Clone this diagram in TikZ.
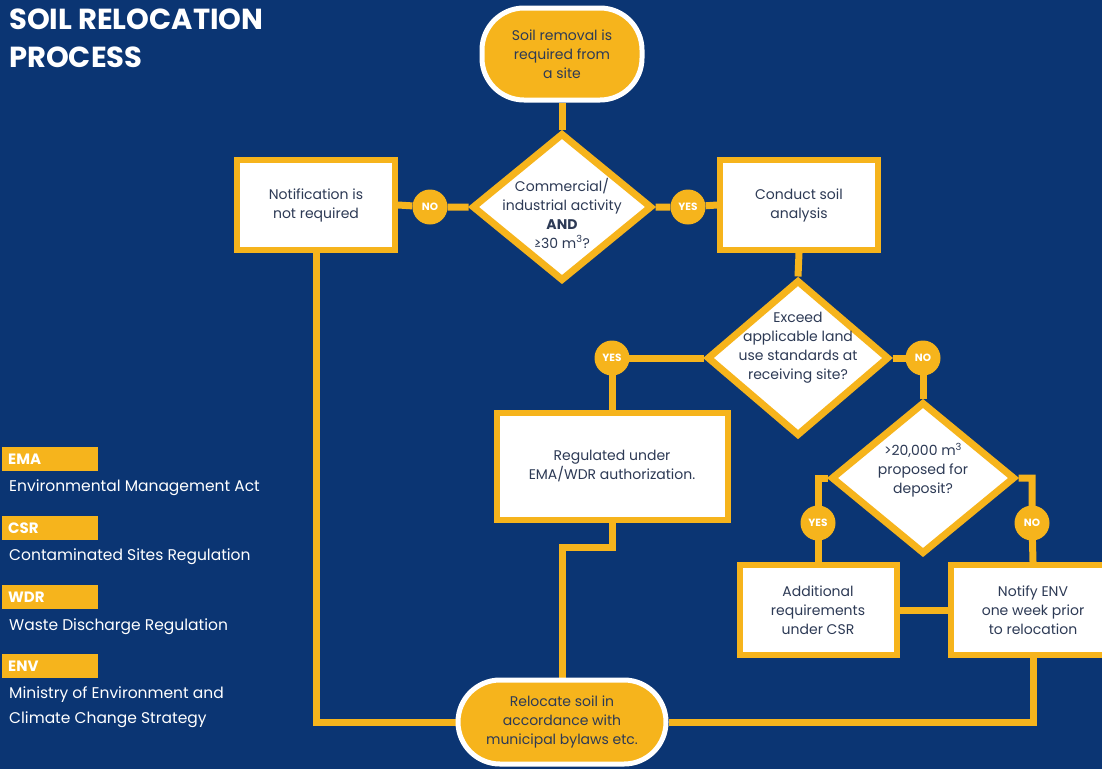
\documentclass[tikz,border=0pt]{standalone}
\usepackage{fontspec}
\setmainfont{Poppins}
\usetikzlibrary{shapes.geometric}
\definecolor{navy}{RGB}{11,53,115}
\definecolor{gold}{RGB}{246,180,28}
\definecolor{ink}{RGB}{45,58,85}
\pgfdeclarelayer{back}
\pgfdeclarelayer{links}
\pgfsetlayers{back,links,main}
\tikzset{
  box/.style={draw=gold, line width=6pt, fill=white, inner sep=0pt, align=center, text=ink, font=\fontsize{14}{19}\selectfont},
  term/.style={draw=white, line width=5pt, fill=gold, rounded corners=42pt, inner sep=0pt, align=center, text=ink, font=\fontsize{14}{19}\selectfont},
  dia/.style={diamond, draw=gold, line width=7pt, fill=white, inner sep=0pt},
  diatxt/.style={align=center, text=ink, font=\fontsize{14}{19}\selectfont, inner sep=0pt},
  badge/.style={circle, fill=gold, minimum size=35pt, inner sep=0pt, text=white, font=\bfseries\fontsize{10.5}{11}\selectfont},
  link/.style={draw=gold, line width=7pt},
  legbar/.style={anchor=north west, fill=gold, minimum width=96pt, minimum height=24pt, text width=84pt, inner xsep=6pt, inner ysep=0pt, align=left, text=white, font=\bfseries\fontsize{15}{16}\selectfont},
  legtxt/.style={anchor=west, text=white, inner sep=0pt, align=left, font=\fontsize{15.5}{25}\selectfont},
}
\begin{document}
\begin{tikzpicture}[x=1pt,y=-1pt]
\useasboundingbox (0,0) rectangle (1102,769);
\clip (0,0) rectangle (1102,769);
\begin{pgfonlayer}{back}
\fill[navy] (0,0) rectangle (1102,769);
\end{pgfonlayer}

% title
\node[anchor=north west, inner sep=0pt, align=left, text=white, font=\bfseries\fontsize{29}{38}\selectfont] (title) at (9,9) {SOIL RELOCATION\\PROCESS};

% flow nodes
\node[term, minimum width=160pt, minimum height=92pt] (start) at (562,54) {Soil removal is\\required from\\a site};
\node[dia, minimum width=180pt, minimum height=148pt] (d1) at (562,207) {};
\node[diatxt] (d1t) at (562,213) {Commercial/\\industrial activity\\{\bfseries AND}\\≥30 m\textsuperscript{3}?};
\node[badge] (no1) at (430,207) {NO};
\node[badge] (yes1) at (688,207) {YES};
\node[box, minimum width=158pt, minimum height=90pt] (notif) at (316,205) {Notification is\\not required};
\node[box, minimum width=158pt, minimum height=90pt] (conduct) at (799,205) {Conduct soil\\analysis};

\node[dia, minimum width=182pt, minimum height=156pt] (d2) at (798,358) {};
\node[diatxt] (d2t) at (798,348) {Exceed\\applicable land\\use standards at\\receiving site?};
\node[badge] (yes2) at (612,358) {YES};
\node[badge] (no2) at (923,358) {NO};
\node[box, minimum width=231pt, minimum height=107pt] (reg) at (612,466) {Regulated under\\EMA/WDR authorization.};

\node[dia, minimum width=184pt, minimum height=152pt] (d3) at (923,478) {};
\node[diatxt] (d3t) at (923,470) {>20,000 m\textsuperscript{3}\\proposed for\\deposit?};
\node[badge] (yes3) at (818,523) {YES};
\node[badge] (no3) at (1032,523) {NO};
\node[box, minimum width=157pt, minimum height=90pt] (add) at (818,610) {Additional\\requirements\\under CSR};
\node[box, minimum width=164pt, minimum height=90pt] (notify) at (1033,610) {Notify ENV\\one week prior\\to relocation};

\node[term, minimum width=208pt, minimum height=84pt] (end) at (562,722) {Relocate soil in\\accordance with\\municipal bylaws etc.};

% connectors
\begin{pgfonlayer}{links}
\draw[link] (start) -- (d1);
\draw[link] (d1.west) -- (no1) -- (notif.east);
\draw[link] (d1.east) -- (yes1) -- (conduct.west);
\draw[link] (conduct.south) -- (d2.north);
\draw[link] (d2.west) -- (yes2.center) -- (reg.north);
\draw[link] (d2.east) -- (no2.center) -- (d3.north);
\draw[link] (d3.west) -| (yes3.center) -- (add.north);
\draw[link] (d3.east) -| (no3.center) -- (notify.north);
\draw[link] (add.east) -- (notify.west);
\draw[link] (notif.south) |- (end.west);
\draw[link] (notify.south) |- (end.east);
\draw[link] (reg.south) -- ++(0,25) -| (end.north);
\end{pgfonlayer}

% legend
\node[legbar] (ema) at (2,447) {EMA};
\node[legtxt] (emat) at (9,488) {Environmental Management Act};
\node[legbar] (csr) at (2,516) {CSR};
\node[legtxt] (csrt) at (9,557) {Contaminated Sites Regulation};
\node[legbar] (wdr) at (2,585) {WDR};
\node[legtxt] (wdrt) at (9,627) {Waste Discharge Regulation};
\node[legbar] (env) at (2,654) {ENV};
\node[legtxt, anchor=north west] (envt) at (9,686) {Ministry of Environment and\\Climate Change Strategy};
\end{tikzpicture}
\end{document}
